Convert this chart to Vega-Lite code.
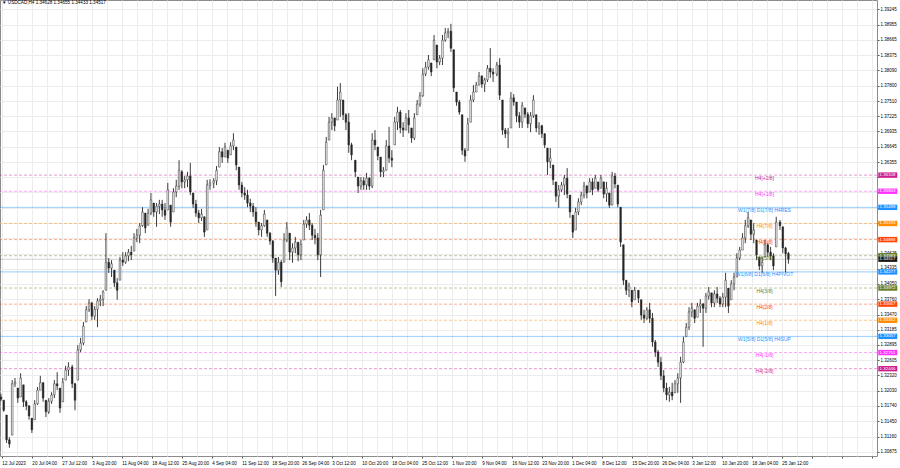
{
"$schema": "https://vega.github.io/schema/vega-lite/v6.json",
"width": 877,
"height": 456,
"autosize": {"type": "none"},
"padding": {"left": 0, "top": 0, "right": 23, "bottom": 12},
"background": "#ffffff",
"title": {"text": "▼ USDCAD,H4  1.34628 1.34655 1.34433 1.34517", "anchor": "start", "frame": "group", "orient": "top", "offset": -8, "fontSize": 4.6, "fontWeight": "normal", "font": "Liberation Sans", "color": "#000000", "dx": 2, "baseline": "middle"},
"config": {
  "view": {"stroke": "#8c8c8c", "strokeWidth": 1},
  "font": "Liberation Sans",
  "scale": {"continuousPadding": 0},
  "axis": {"labelFont": "Liberation Sans", "labelFontSize": 4.5, "labelColor": "#000000", "tickColor": "#555555", "domain": false, "gridColor": "#ececec", "gridWidth": 1, "zindex": 0, "labelOverlap": false, "labelSeparation": 0, "labelBound": false, "tickCount": 200}
},
"datasets": {
"levels": [
{"lvl":"+2/8","p":1.36108,"label":"H4[+2/8]"},
{"lvl":"+1/8","p":1.35803,"label":"H4[+1/8]"},
{"lvl":"RES","p":1.35498,"label":"W1[7/8] D1[7/8] H4RES"},
{"lvl":"7/8","p":1.35193,"label":"H4[7/8]"},
{"lvl":"6/8","p":1.34888,"label":"H4[6/8]"},
{"lvl":"5/8","p":1.34583,"label":"H4[5/8]"},
{"lvl":"PIVOT","p":1.34277,"label":"W1[6/8] D1[6/8] H4PIVOT"},
{"lvl":"3/8","p":1.33972,"label":"H4[3/8]"},
{"lvl":"2/8","p":1.33667,"label":"H4[2/8]"},
{"lvl":"1/8","p":1.33362,"label":"H4[1/8]"},
{"lvl":"SUP","p":1.33057,"label":"W1[5/8] D1[5/8] H4SUP"},
{"lvl":"-1/8","p":1.32751,"label":"H4[-1/8]"},
{"lvl":"-2/8","p":1.32446,"label":"H4[-2/8]"},
{"lvl":"Bid","p":1.34517,"label":""}
],
"candles": [
{"i":1,"o":1.3191,"h":1.3197,"l":1.3183,"c":1.3187},
{"i":4,"o":1.3185,"h":1.3185,"l":1.3163,"c":1.3166},
{"i":7,"o":1.3157,"h":1.3157,"l":1.3104,"c":1.3110},
{"i":10,"o":1.3110,"h":1.3115,"l":1.3095,"c":1.3102},
{"i":13,"o":1.3119,"h":1.3223,"l":1.3119,"c":1.3216},
{"i":16,"o":1.3216,"h":1.3227,"l":1.3210,"c":1.3219},
{"i":19,"o":1.3208,"h":1.3208,"l":1.3180,"c":1.3189},
{"i":22,"o":1.3191,"h":1.3236,"l":1.3191,"c":1.3227},
{"i":25,"o":1.3214,"h":1.3214,"l":1.3172,"c":1.3182},
{"i":28,"o":1.3182,"h":1.3185,"l":1.3166,"c":1.3174},
{"i":31,"o":1.3174,"h":1.3176,"l":1.3148,"c":1.3155},
{"i":34,"o":1.3151,"h":1.3151,"l":1.3123,"c":1.3129},
{"i":37,"o":1.3148,"h":1.3185,"l":1.3148,"c":1.3178},
{"i":40,"o":1.3178,"h":1.3210,"l":1.3176,"c":1.3204},
{"i":43,"o":1.3204,"h":1.3231,"l":1.3204,"c":1.3218},
{"i":46,"o":1.3218,"h":1.3219,"l":1.3182,"c":1.3189},
{"i":49,"o":1.3185,"h":1.3185,"l":1.3153,"c":1.3163},
{"i":52,"o":1.3163,"h":1.3189,"l":1.3159,"c":1.3183},
{"i":55,"o":1.3183,"h":1.3200,"l":1.3178,"c":1.3195},
{"i":58,"o":1.3195,"h":1.3223,"l":1.3189,"c":1.3216},
{"i":61,"o":1.3216,"h":1.3238,"l":1.3204,"c":1.3212},
{"i":64,"o":1.3208,"h":1.3208,"l":1.3161,"c":1.3170},
{"i":67,"o":1.3182,"h":1.3227,"l":1.3182,"c":1.3219},
{"i":70,"o":1.3223,"h":1.3250,"l":1.3223,"c":1.3242},
{"i":73,"o":1.3242,"h":1.3257,"l":1.3231,"c":1.3248},
{"i":77,"o":1.3248,"h":1.3252,"l":1.3208,"c":1.3216},
{"i":80,"o":1.3216,"h":1.3218,"l":1.3166,"c":1.3185},
{"i":83,"o":1.3223,"h":1.3289,"l":1.3223,"c":1.3280},
{"i":86,"o":1.3280,"h":1.3303,"l":1.3276,"c":1.3293},
{"i":89,"o":1.3293,"h":1.3333,"l":1.3289,"c":1.3325},
{"i":92,"o":1.3333,"h":1.3363,"l":1.3333,"c":1.3356},
{"i":95,"o":1.3356,"h":1.3376,"l":1.3352,"c":1.3369},
{"i":98,"o":1.3369,"h":1.3371,"l":1.3337,"c":1.3344},
{"i":101,"o":1.3344,"h":1.3363,"l":1.3337,"c":1.3357},
{"i":104,"o":1.3357,"h":1.3378,"l":1.3323,"c":1.3373},
{"i":107,"o":1.3373,"h":1.3384,"l":1.3363,"c":1.3376},
{"i":110,"o":1.3376,"h":1.3393,"l":1.3363,"c":1.3390},
{"i":113,"o":1.3393,"h":1.3501,"l":1.3393,"c":1.3446},
{"i":116,"o":1.3446,"h":1.3454,"l":1.3426,"c":1.3435},
{"i":119,"o":1.3435,"h":1.3450,"l":1.3418,"c":1.3443},
{"i":122,"o":1.3431,"h":1.3431,"l":1.3399,"c":1.3407},
{"i":125,"o":1.3407,"h":1.3416,"l":1.3375,"c":1.3393},
{"i":128,"o":1.3412,"h":1.3456,"l":1.3412,"c":1.3450},
{"i":131,"o":1.3450,"h":1.3465,"l":1.3439,"c":1.3446},
{"i":134,"o":1.3446,"h":1.3465,"l":1.3443,"c":1.3458},
{"i":137,"o":1.3458,"h":1.3471,"l":1.3448,"c":1.3465},
{"i":140,"o":1.3465,"h":1.3477,"l":1.3450,"c":1.3460},
{"i":143,"o":1.3467,"h":1.3501,"l":1.3467,"c":1.3492},
{"i":146,"o":1.3492,"h":1.3509,"l":1.3484,"c":1.3497},
{"i":149,"o":1.3497,"h":1.3520,"l":1.3482,"c":1.3515},
{"i":152,"o":1.3515,"h":1.3550,"l":1.3513,"c":1.3541},
{"i":155,"o":1.3539,"h":1.3539,"l":1.3501,"c":1.3511},
{"i":158,"o":1.3516,"h":1.3547,"l":1.3516,"c":1.3539},
{"i":161,"o":1.3539,"h":1.3577,"l":1.3535,"c":1.3564},
{"i":164,"o":1.3558,"h":1.3558,"l":1.3532,"c":1.3541},
{"i":167,"o":1.3541,"h":1.3558,"l":1.3513,"c":1.3552},
{"i":170,"o":1.3552,"h":1.3564,"l":1.3537,"c":1.3556},
{"i":173,"o":1.3556,"h":1.3564,"l":1.3532,"c":1.3545},
{"i":176,"o":1.3545,"h":1.3558,"l":1.3526,"c":1.3535},
{"i":179,"o":1.3545,"h":1.3596,"l":1.3545,"c":1.3583},
{"i":182,"o":1.3554,"h":1.3554,"l":1.3513,"c":1.3522},
{"i":185,"o":1.3541,"h":1.3586,"l":1.3541,"c":1.3579},
{"i":188,"o":1.3579,"h":1.3602,"l":1.3569,"c":1.3590},
{"i":191,"o":1.3590,"h":1.3639,"l":1.3583,"c":1.3620},
{"i":194,"o":1.3617,"h":1.3620,"l":1.3586,"c":1.3598},
{"i":197,"o":1.3598,"h":1.3609,"l":1.3586,"c":1.3602},
{"i":200,"o":1.3602,"h":1.3617,"l":1.3588,"c":1.3609},
{"i":203,"o":1.3609,"h":1.3634,"l":1.3573,"c":1.3579},
{"i":206,"o":1.3577,"h":1.3577,"l":1.3549,"c":1.3556},
{"i":209,"o":1.3556,"h":1.3564,"l":1.3532,"c":1.3539},
{"i":212,"o":1.3539,"h":1.3545,"l":1.3520,"c":1.3530},
{"i":215,"o":1.3530,"h":1.3547,"l":1.3524,"c":1.3537},
{"i":218,"o":1.3532,"h":1.3532,"l":1.3494,"c":1.3503},
{"i":221,"o":1.3507,"h":1.3602,"l":1.3507,"c":1.3592},
{"i":224,"o":1.3592,"h":1.3603,"l":1.3583,"c":1.3596},
{"i":228,"o":1.3596,"h":1.3605,"l":1.3586,"c":1.3600},
{"i":231,"o":1.3600,"h":1.3628,"l":1.3592,"c":1.3620},
{"i":234,"o":1.3626,"h":1.3664,"l":1.3626,"c":1.3655},
{"i":237,"o":1.3655,"h":1.3662,"l":1.3634,"c":1.3645},
{"i":240,"o":1.3645,"h":1.3672,"l":1.3645,"c":1.3664},
{"i":243,"o":1.3658,"h":1.3658,"l":1.3634,"c":1.3643},
{"i":246,"o":1.3649,"h":1.3673,"l":1.3649,"c":1.3666},
{"i":249,"o":1.3666,"h":1.3690,"l":1.3658,"c":1.3677},
{"i":252,"o":1.3664,"h":1.3664,"l":1.3620,"c":1.3630},
{"i":255,"o":1.3626,"h":1.3626,"l":1.3583,"c":1.3592},
{"i":258,"o":1.3592,"h":1.3598,"l":1.3569,"c":1.3577},
{"i":261,"o":1.3577,"h":1.3588,"l":1.3564,"c":1.3573},
{"i":264,"o":1.3573,"h":1.3583,"l":1.3550,"c":1.3558},
{"i":267,"o":1.3558,"h":1.3566,"l":1.3541,"c":1.3552},
{"i":270,"o":1.3552,"h":1.3558,"l":1.3532,"c":1.3541},
{"i":273,"o":1.3541,"h":1.3550,"l":1.3513,"c":1.3522},
{"i":276,"o":1.3522,"h":1.3522,"l":1.3497,"c":1.3507},
{"i":279,"o":1.3507,"h":1.3520,"l":1.3494,"c":1.3515},
{"i":282,"o":1.3515,"h":1.3545,"l":1.3513,"c":1.3537},
{"i":285,"o":1.3526,"h":1.3526,"l":1.3494,"c":1.3501},
{"i":288,"o":1.3501,"h":1.3503,"l":1.3479,"c":1.3486},
{"i":291,"o":1.3486,"h":1.3488,"l":1.3445,"c":1.3454},
{"i":294,"o":1.3454,"h":1.3454,"l":1.3382,"c":1.3431},
{"i":297,"o":1.3431,"h":1.3456,"l":1.3422,"c":1.3446},
{"i":300,"o":1.3446,"h":1.3450,"l":1.3399,"c":1.3409},
{"i":303,"o":1.3446,"h":1.3501,"l":1.3446,"c":1.3488},
{"i":306,"o":1.3488,"h":1.3522,"l":1.3484,"c":1.3511},
{"i":309,"o":1.3501,"h":1.3501,"l":1.3450,"c":1.3465},
{"i":312,"o":1.3465,"h":1.3482,"l":1.3445,"c":1.3473},
{"i":315,"o":1.3473,"h":1.3494,"l":1.3463,"c":1.3484},
{"i":318,"o":1.3484,"h":1.3484,"l":1.3448,"c":1.3460},
{"i":321,"o":1.3460,"h":1.3488,"l":1.3450,"c":1.3480},
{"i":324,"o":1.3488,"h":1.3526,"l":1.3488,"c":1.3518},
{"i":327,"o":1.3518,"h":1.3533,"l":1.3511,"c":1.3526},
{"i":330,"o":1.3526,"h":1.3539,"l":1.3507,"c":1.3516},
{"i":333,"o":1.3516,"h":1.3520,"l":1.3488,"c":1.3497},
{"i":336,"o":1.3497,"h":1.3509,"l":1.3480,"c":1.3492},
{"i":339,"o":1.3492,"h":1.3501,"l":1.3450,"c":1.3460},
{"i":342,"o":1.3460,"h":1.3545,"l":1.3418,"c":1.3535},
{"i":345,"o":1.3545,"h":1.3630,"l":1.3545,"c":1.3620},
{"i":348,"o":1.3630,"h":1.3683,"l":1.3630,"c":1.3673},
{"i":351,"o":1.3677,"h":1.3721,"l":1.3677,"c":1.3711},
{"i":354,"o":1.3711,"h":1.3728,"l":1.3696,"c":1.3719},
{"i":357,"o":1.3719,"h":1.3719,"l":1.3694,"c":1.3704},
{"i":360,"o":1.3715,"h":1.3778,"l":1.3715,"c":1.3753},
{"i":363,"o":1.3753,"h":1.3785,"l":1.3721,"c":1.3768},
{"i":366,"o":1.3753,"h":1.3753,"l":1.3715,"c":1.3725},
{"i":369,"o":1.3725,"h":1.3728,"l":1.3696,"c":1.3711},
{"i":372,"o":1.3711,"h":1.3728,"l":1.3653,"c":1.3668},
{"i":375,"o":1.3668,"h":1.3672,"l":1.3639,"c":1.3649},
{"i":379,"o":1.3639,"h":1.3639,"l":1.3607,"c":1.3617},
{"i":382,"o":1.3607,"h":1.3607,"l":1.3577,"c":1.3590},
{"i":385,"o":1.3590,"h":1.3607,"l":1.3583,"c":1.3600},
{"i":388,"o":1.3600,"h":1.3607,"l":1.3583,"c":1.3592},
{"i":391,"o":1.3592,"h":1.3615,"l":1.3583,"c":1.3605},
{"i":394,"o":1.3605,"h":1.3607,"l":1.3583,"c":1.3590},
{"i":397,"o":1.3590,"h":1.3690,"l":1.3586,"c":1.3677},
{"i":400,"o":1.3677,"h":1.3696,"l":1.3658,"c":1.3668},
{"i":403,"o":1.3664,"h":1.3664,"l":1.3639,"c":1.3647},
{"i":406,"o":1.3645,"h":1.3645,"l":1.3607,"c":1.3617},
{"i":409,"o":1.3617,"h":1.3626,"l":1.3607,"c":1.3620},
{"i":412,"o":1.3620,"h":1.3677,"l":1.3620,"c":1.3666},
{"i":415,"o":1.3666,"h":1.3702,"l":1.3634,"c":1.3643},
{"i":418,"o":1.3643,"h":1.3658,"l":1.3626,"c":1.3639},
{"i":421,"o":1.3668,"h":1.3721,"l":1.3668,"c":1.3711},
{"i":424,"o":1.3711,"h":1.3740,"l":1.3696,"c":1.3730},
{"i":427,"o":1.3730,"h":1.3734,"l":1.3690,"c":1.3700},
{"i":430,"o":1.3700,"h":1.3711,"l":1.3683,"c":1.3696},
{"i":433,"o":1.3696,"h":1.3728,"l":1.3696,"c":1.3719},
{"i":436,"o":1.3719,"h":1.3734,"l":1.3690,"c":1.3706},
{"i":439,"o":1.3700,"h":1.3700,"l":1.3672,"c":1.3681},
{"i":442,"o":1.3681,"h":1.3728,"l":1.3677,"c":1.3719},
{"i":445,"o":1.3725,"h":1.3753,"l":1.3725,"c":1.3745},
{"i":448,"o":1.3745,"h":1.3768,"l":1.3740,"c":1.3761},
{"i":451,"o":1.3761,"h":1.3813,"l":1.3759,"c":1.3802},
{"i":454,"o":1.3802,"h":1.3825,"l":1.3798,"c":1.3815},
{"i":457,"o":1.3815,"h":1.3838,"l":1.3810,"c":1.3829},
{"i":460,"o":1.3823,"h":1.3823,"l":1.3798,"c":1.3806},
{"i":463,"o":1.3829,"h":1.3876,"l":1.3829,"c":1.3866},
{"i":466,"o":1.3857,"h":1.3857,"l":1.3813,"c":1.3825},
{"i":469,"o":1.3825,"h":1.3838,"l":1.3819,"c":1.3832},
{"i":472,"o":1.3832,"h":1.3876,"l":1.3819,"c":1.3866},
{"i":475,"o":1.3866,"h":1.3889,"l":1.3863,"c":1.3880},
{"i":478,"o":1.3880,"h":1.3889,"l":1.3870,"c":1.3883},
{"i":481,"o":1.3883,"h":1.3897,"l":1.3844,"c":1.3851},
{"i":484,"o":1.3848,"h":1.3848,"l":1.3768,"c":1.3776},
{"i":487,"o":1.3768,"h":1.3768,"l":1.3742,"c":1.3749},
{"i":490,"o":1.3749,"h":1.3753,"l":1.3725,"c":1.3730},
{"i":493,"o":1.3725,"h":1.3725,"l":1.3649,"c":1.3658},
{"i":496,"o":1.3658,"h":1.3662,"l":1.3636,"c":1.3647},
{"i":499,"o":1.3658,"h":1.3719,"l":1.3658,"c":1.3708},
{"i":502,"o":1.3711,"h":1.3762,"l":1.3711,"c":1.3753},
{"i":505,"o":1.3753,"h":1.3781,"l":1.3749,"c":1.3768},
{"i":508,"o":1.3768,"h":1.3787,"l":1.3768,"c":1.3781},
{"i":511,"o":1.3781,"h":1.3806,"l":1.3781,"c":1.3798},
{"i":514,"o":1.3798,"h":1.3800,"l":1.3776,"c":1.3783},
{"i":517,"o":1.3783,"h":1.3795,"l":1.3768,"c":1.3791},
{"i":520,"o":1.3791,"h":1.3819,"l":1.3787,"c":1.3813},
{"i":523,"o":1.3813,"h":1.3851,"l":1.3795,"c":1.3806},
{"i":526,"o":1.3806,"h":1.3813,"l":1.3787,"c":1.3802},
{"i":530,"o":1.3802,"h":1.3825,"l":1.3798,"c":1.3819},
{"i":533,"o":1.3819,"h":1.3832,"l":1.3753,"c":1.3762},
{"i":536,"o":1.3753,"h":1.3753,"l":1.3687,"c":1.3696},
{"i":539,"o":1.3696,"h":1.3700,"l":1.3681,"c":1.3689},
{"i":542,"o":1.3689,"h":1.3700,"l":1.3662,"c":1.3692},
{"i":545,"o":1.3700,"h":1.3768,"l":1.3700,"c":1.3757},
{"i":548,"o":1.3757,"h":1.3764,"l":1.3742,"c":1.3749},
{"i":551,"o":1.3749,"h":1.3749,"l":1.3711,"c":1.3723},
{"i":554,"o":1.3723,"h":1.3730,"l":1.3700,"c":1.3711},
{"i":557,"o":1.3711,"h":1.3749,"l":1.3700,"c":1.3742},
{"i":560,"o":1.3738,"h":1.3738,"l":1.3719,"c":1.3726},
{"i":563,"o":1.3726,"h":1.3730,"l":1.3700,"c":1.3708},
{"i":566,"o":1.3708,"h":1.3730,"l":1.3692,"c":1.3723},
{"i":569,"o":1.3723,"h":1.3762,"l":1.3719,"c":1.3753},
{"i":572,"o":1.3725,"h":1.3725,"l":1.3692,"c":1.3700},
{"i":575,"o":1.3700,"h":1.3711,"l":1.3687,"c":1.3704},
{"i":578,"o":1.3704,"h":1.3706,"l":1.3681,"c":1.3689},
{"i":581,"o":1.3689,"h":1.3690,"l":1.3662,"c":1.3668},
{"i":584,"o":1.3662,"h":1.3662,"l":1.3611,"c":1.3636},
{"i":587,"o":1.3636,"h":1.3662,"l":1.3624,"c":1.3643},
{"i":590,"o":1.3630,"h":1.3630,"l":1.3592,"c":1.3602},
{"i":593,"o":1.3598,"h":1.3598,"l":1.3560,"c":1.3571},
{"i":596,"o":1.3571,"h":1.3592,"l":1.3549,"c":1.3583},
{"i":599,"o":1.3583,"h":1.3598,"l":1.3579,"c":1.3592},
{"i":602,"o":1.3592,"h":1.3611,"l":1.3573,"c":1.3605},
{"i":605,"o":1.3605,"h":1.3624,"l":1.3567,"c":1.3575},
{"i":608,"o":1.3573,"h":1.3573,"l":1.3530,"c":1.3541},
{"i":611,"o":1.3535,"h":1.3535,"l":1.3492,"c":1.3503},
{"i":614,"o":1.3507,"h":1.3549,"l":1.3507,"c":1.3541},
{"i":617,"o":1.3541,"h":1.3567,"l":1.3535,"c":1.3560},
{"i":620,"o":1.3560,"h":1.3579,"l":1.3554,"c":1.3573},
{"i":623,"o":1.3573,"h":1.3598,"l":1.3567,"c":1.3590},
{"i":626,"o":1.3590,"h":1.3592,"l":1.3567,"c":1.3577},
{"i":629,"o":1.3579,"h":1.3605,"l":1.3579,"c":1.3598},
{"i":632,"o":1.3598,"h":1.3605,"l":1.3573,"c":1.3583},
{"i":635,"o":1.3586,"h":1.3611,"l":1.3586,"c":1.3605},
{"i":638,"o":1.3598,"h":1.3598,"l":1.3579,"c":1.3583},
{"i":641,"o":1.3586,"h":1.3611,"l":1.3586,"c":1.3605},
{"i":644,"o":1.3598,"h":1.3598,"l":1.3567,"c":1.3575},
{"i":647,"o":1.3575,"h":1.3598,"l":1.3560,"c":1.3586},
{"i":650,"o":1.3577,"h":1.3577,"l":1.3549,"c":1.3554},
{"i":653,"o":1.3554,"h":1.3617,"l":1.3554,"c":1.3609},
{"i":656,"o":1.3609,"h":1.3615,"l":1.3586,"c":1.3594},
{"i":659,"o":1.3592,"h":1.3592,"l":1.3550,"c":1.3556},
{"i":662,"o":1.3550,"h":1.3550,"l":1.3475,"c":1.3484},
{"i":665,"o":1.3479,"h":1.3479,"l":1.3403,"c":1.3412},
{"i":668,"o":1.3412,"h":1.3412,"l":1.3384,"c":1.3393},
{"i":671,"o":1.3393,"h":1.3407,"l":1.3380,"c":1.3401},
{"i":674,"o":1.3393,"h":1.3393,"l":1.3361,"c":1.3371},
{"i":677,"o":1.3375,"h":1.3399,"l":1.3375,"c":1.3393},
{"i":681,"o":1.3393,"h":1.3393,"l":1.3369,"c":1.3378},
{"i":684,"o":1.3375,"h":1.3375,"l":1.3337,"c":1.3346},
{"i":687,"o":1.3346,"h":1.3356,"l":1.3331,"c":1.3340},
{"i":690,"o":1.3340,"h":1.3361,"l":1.3337,"c":1.3356},
{"i":693,"o":1.3356,"h":1.3369,"l":1.3331,"c":1.3340},
{"i":696,"o":1.3340,"h":1.3350,"l":1.3286,"c":1.3295},
{"i":699,"o":1.3295,"h":1.3299,"l":1.3267,"c":1.3276},
{"i":702,"o":1.3276,"h":1.3280,"l":1.3248,"c":1.3257},
{"i":705,"o":1.3257,"h":1.3267,"l":1.3223,"c":1.3231},
{"i":708,"o":1.3231,"h":1.3242,"l":1.3200,"c":1.3208},
{"i":711,"o":1.3208,"h":1.3218,"l":1.3185,"c":1.3195},
{"i":714,"o":1.3195,"h":1.3210,"l":1.3182,"c":1.3200},
{"i":717,"o":1.3200,"h":1.3218,"l":1.3185,"c":1.3193},
{"i":720,"o":1.3199,"h":1.3223,"l":1.3199,"c":1.3216},
{"i":723,"o":1.3216,"h":1.3236,"l":1.3199,"c":1.3227},
{"i":726,"o":1.3227,"h":1.3267,"l":1.3180,"c":1.3257},
{"i":729,"o":1.3257,"h":1.3305,"l":1.3255,"c":1.3295},
{"i":732,"o":1.3305,"h":1.3331,"l":1.3305,"c":1.3323},
{"i":735,"o":1.3323,"h":1.3361,"l":1.3318,"c":1.3352},
{"i":738,"o":1.3352,"h":1.3369,"l":1.3342,"c":1.3359},
{"i":741,"o":1.3356,"h":1.3356,"l":1.3331,"c":1.3340},
{"i":744,"o":1.3342,"h":1.3369,"l":1.3342,"c":1.3363},
{"i":747,"o":1.3363,"h":1.3376,"l":1.3350,"c":1.3367},
{"i":750,"o":1.3367,"h":1.3369,"l":1.3286,"c":1.3359},
{"i":753,"o":1.3359,"h":1.3388,"l":1.3350,"c":1.3382},
{"i":756,"o":1.3382,"h":1.3399,"l":1.3375,"c":1.3390},
{"i":759,"o":1.3388,"h":1.3388,"l":1.3361,"c":1.3369},
{"i":762,"o":1.3369,"h":1.3393,"l":1.3361,"c":1.3386},
{"i":765,"o":1.3386,"h":1.3399,"l":1.3369,"c":1.3378},
{"i":768,"o":1.3378,"h":1.3382,"l":1.3361,"c":1.3367},
{"i":771,"o":1.3367,"h":1.3388,"l":1.3361,"c":1.3380},
{"i":774,"o":1.3380,"h":1.3426,"l":1.3361,"c":1.3412},
{"i":777,"o":1.3397,"h":1.3397,"l":1.3350,"c":1.3363},
{"i":780,"o":1.3375,"h":1.3412,"l":1.3375,"c":1.3405},
{"i":783,"o":1.3405,"h":1.3426,"l":1.3393,"c":1.3418},
{"i":786,"o":1.3418,"h":1.3463,"l":1.3418,"c":1.3454},
{"i":789,"o":1.3454,"h":1.3475,"l":1.3450,"c":1.3469},
{"i":792,"o":1.3469,"h":1.3501,"l":1.3469,"c":1.3492},
{"i":795,"o":1.3492,"h":1.3526,"l":1.3482,"c":1.3515},
{"i":798,"o":1.3515,"h":1.3541,"l":1.3511,"c":1.3530},
{"i":801,"o":1.3526,"h":1.3526,"l":1.3488,"c":1.3499},
{"i":804,"o":1.3499,"h":1.3520,"l":1.3482,"c":1.3507},
{"i":807,"o":1.3488,"h":1.3488,"l":1.3450,"c":1.3460},
{"i":810,"o":1.3456,"h":1.3456,"l":1.3431,"c":1.3439},
{"i":813,"o":1.3439,"h":1.3456,"l":1.3426,"c":1.3446},
{"i":816,"o":1.3456,"h":1.3488,"l":1.3456,"c":1.3479},
{"i":819,"o":1.3479,"h":1.3482,"l":1.3456,"c":1.3465},
{"i":822,"o":1.3465,"h":1.3475,"l":1.3450,"c":1.3458},
{"i":825,"o":1.3458,"h":1.3463,"l":1.3431,"c":1.3439},
{"i":828,"o":1.3475,"h":1.3532,"l":1.3475,"c":1.3522},
{"i":832,"o":1.3522,"h":1.3526,"l":1.3507,"c":1.3515},
{"i":835,"o":1.3513,"h":1.3513,"l":1.3463,"c":1.3473},
{"i":838,"o":1.3473,"h":1.3475,"l":1.3426,"c":1.3462},
{"i":841,"o":1.34628,"h":1.34655,"l":1.34433,"c":1.34517}
]
},
"layer": [
{
  "data": {"name": "levels"},
  "mark": {"type": "rule", "strokeWidth": 1},
  "encoding": {
    "y": {"field": "p", "type": "quantitative", "title": null,
      "scale": {"domain": [1.30794, 1.39421], "nice": false, "zero": false, "padding": 0},
      "axis": {"orient": "right", "grid": true, "tickSize": 2, "tickCount": 200, "labelPadding": 1, "labelAlign": "left", "labelBaseline": "middle", "labelOverlap": false, "labelFlush": false,
        "labelOffset": {"condition": {"test": "abs(datum.value - 1.34335) < 0.00001", "value": -1.2}, "value": 0},
        "values": [1.30875,1.3116,1.3145,1.3174,1.3203,1.3232,1.32605,1.32895,1.33185,1.3347,1.3376,1.3405,1.34335,1.34625,1.34915,1.352,1.3549,1.3578,1.36065,1.36355,1.36645,1.36935,1.37225,1.3751,1.378,1.3809,1.38375,1.38665,1.38955,1.39245],
        "labelExpr": "(datum.value > 1.3475 && datum.value < 1.3620) ? '' : format(datum.value, '.5f')"}},
    "color": {"field": "lvl", "type": "nominal", "legend": null,
      "scale": {"domain": ["+2/8","+1/8","RES","7/8","6/8","5/8","PIVOT","3/8","2/8","1/8","SUP","-1/8","-2/8","Bid"],
                "range": ["#cc1f8f","#ff33ff","#1e90ff","#ff8c00","#ff4500","#6b7d2a","#1e90ff","#6b7d2a","#ff4500","#ff8c00","#1e90ff","#ff33ff","#cc1f8f","#1a1a1a"]}},
    "opacity": {"condition": {"test": "datum.lvl == 'Bid'", "value": 0.2}, "value": 0.45},
    "strokeDash": {"condition": {"test": "indexof(['RES','PIVOT','SUP','Bid'], datum.lvl) >= 0", "value": [1, 0]}, "value": [3, 2]}
  }
},
{
  "data": {"name": "candles"},
  "mark": {"type": "rule", "color": "#262626", "strokeWidth": 0.9},
  "encoding": {
    "x": {"field": "i", "type": "quantitative", "title": null,
      "scale": {"domain": [0, 935.5], "nice": false, "zero": false, "padding": 0},
      "axis": {"grid": true, "tickSize": 2, "tickCount": 200, "labelPadding": 2, "labelAlign": "left", "labelOverlap": false, "labelFlush": false,
        "values": [2,18,34,50,66,82,98,114,130,146,162,178,194,210,226,242,258,274,290,306,322,338,354,370,386,402,418,434,450,466,482,498,514,530,546,562,578,594,610,626,642,658,674,690,706,722,738,754,770,786,802,818,834,850,866,882,898,914,930],
        "tickOpacity": {"condition": {"test": "datum.value % 32 == 2", "value": 1}, "value": 0},
        "labelExpr": "datum.value % 32 == 2 ? ['12 Jul 2023','20 Jul 04:00','27 Jul 12:00','3 Aug 20:00','11 Aug 04:00','18 Aug 12:00','25 Aug 20:00','4 Sep 04:00','11 Sep 12:00','18 Sep 20:00','26 Sep 04:00','3 Oct 12:00','10 Oct 20:00','18 Oct 04:00','25 Oct 12:00','1 Nov 20:00','9 Nov 04:00','16 Nov 12:00','23 Nov 20:00','1 Dec 04:00','8 Dec 12:00','15 Dec 20:00','26 Dec 04:00','3 Jan 12:00','10 Jan 20:00','18 Jan 04:00','25 Jan 12:00'][(datum.value - 2) / 32] : ''"}},
    "y": {"field": "l", "type": "quantitative", "title": null},
    "y2": {"field": "h"}
  }
},
{
  "data": {"name": "candles"},
  "mark": {"type": "bar", "width": 1.6, "stroke": "#262626", "strokeWidth": 0.5},
  "encoding": {
    "x": {"field": "i", "type": "quantitative", "title": null},
    "y": {"field": "o", "type": "quantitative", "title": null},
    "y2": {"field": "c"},
    "fill": {"condition": {"test": "datum.c >= datum.o", "value": "#ffffff"}, "value": "#262626"}
  }
},
{
  "data": {"name": "levels"},
  "transform": [{"filter": "datum.label != ''"}],
  "mark": {"type": "text", "align": "center", "baseline": "top", "dy": 0.5, "fontSize": 5, "font": "Liberation Sans"},
  "encoding": {
    "x": {"datum": 815.5, "type": "quantitative", "title": null},
    "y": {"field": "p", "type": "quantitative", "title": null},
    "text": {"field": "label"},
    "color": {"field": "lvl", "type": "nominal", "legend": null}
  }
},
{
  "data": {"name": "levels"},
  "mark": {"type": "bar", "height": 5.4},
  "encoding": {
    "x": {"datum": 936.9, "type": "quantitative", "title": null},
    "x2": {"datum": 957.1},
    "y": {"field": "p", "type": "quantitative", "title": null},
    "color": {"field": "lvl", "type": "nominal", "legend": null}
  }
},
{
  "data": {"name": "levels"},
  "mark": {"type": "text", "align": "left", "baseline": "middle", "fontSize": 4.4, "font": "Liberation Sans", "color": "#ffffff"},
  "encoding": {
    "x": {"datum": 938.3, "type": "quantitative", "title": null},
    "y": {"field": "p", "type": "quantitative", "title": null},
    "text": {"field": "p", "type": "quantitative", "format": ".5f"}
  }
}
]
}
